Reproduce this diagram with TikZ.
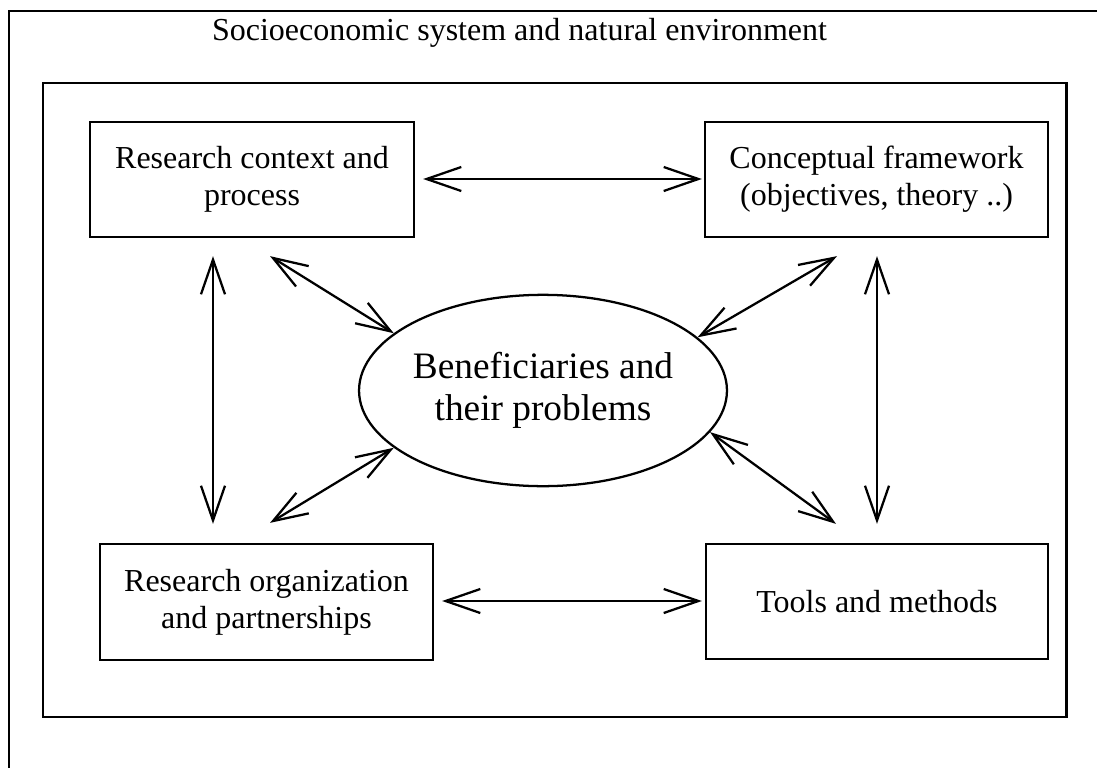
\documentclass[tikz,border=0pt]{standalone}
\usepackage{fontspec}
\setmainfont{Liberation Serif}
\usetikzlibrary{arrows.meta,shapes.geometric,calc}
\begin{document}
\begin{tikzpicture}[x=0.75pt,y=-0.75pt,
  frame/.style={draw=black,line width=1.7pt},
  boxnode/.style={draw=black,line width=1.7pt,rectangle,align=center,
    font=\fontsize{24}{27.75}\selectfont,inner sep=0pt},
  ellnode/.style={draw=black,line width=1.7pt,ellipse,align=center,
    minimum width=267pt,minimum height=143.5pt,inner sep=0pt,
    font=\fontsize{28}{31.5}\selectfont},
  link/.style={line width=1.7pt,
    {Straight Barb[length=26pt,width=18pt]}-{Straight Barb[length=26pt,width=18pt]}}
]
\useasboundingbox (0,0) rectangle (1097,768);
\fill[white] (0,0) rectangle (1097,768);
\begin{scope}
\clip (0,0) rectangle (1097,768);
\draw[frame] (9,11) rectangle (1120,790);
\end{scope}
\draw[frame] (43,83) rectangle (1066.5,717);

\node[font=\fontsize{24}{27.75}\selectfont] (title) at (519.5,32.5) {Socioeconomic system and natural environment};

\node[boxnode,minimum width=243pt,minimum height=86.25pt] (tl) at (252,179.5)
  {Research context and\\process};
\node[boxnode,minimum width=257.25pt,minimum height=86.25pt] (tr) at (876.5,179.5)
  {Conceptual framework\\(objectives, theory ..)};
\node[boxnode,minimum width=249.75pt,minimum height=87pt] (bl) at (266.5,602)
  {Research organization\\and partnerships};
\node[boxnode,minimum width=256.5pt,minimum height=86.25pt] (br) at (877,601.5)
  {Tools and methods};
\node[ellnode] (ell) at (543,390.5) {Beneficiaries and\\their problems};

% horizontal
\draw[link] ($(tl.east)+(8,-0.5)$) -- ($(tr.west)+(-2,-0.5)$);
\draw[link] ($(bl.east)+(8,-1)$) -- ($(br.west)+(-3,-0.5)$);
% vertical
\draw[link] ($(tl.south)+(-39,18)$) -- ($(bl.north)+(-53.5,-19)$);
\draw[link] ($(tr.south)+(0.5,18)$) -- ($(br.north)+(0,-19)$);
% diagonals
\draw[link] ($(tl.south)+(18,18)$) -- (ell.159);
\draw[link] ($(tr.south)+(-39.5,18)$) -- (ell.19.4);
\draw[link] ($(bl.north)+(3.5,-20)$) -- (ell.201.4);
\draw[link] (ell.346.6) -- ($(br.north)+(-41,-19)$);
\end{tikzpicture}
\end{document}
